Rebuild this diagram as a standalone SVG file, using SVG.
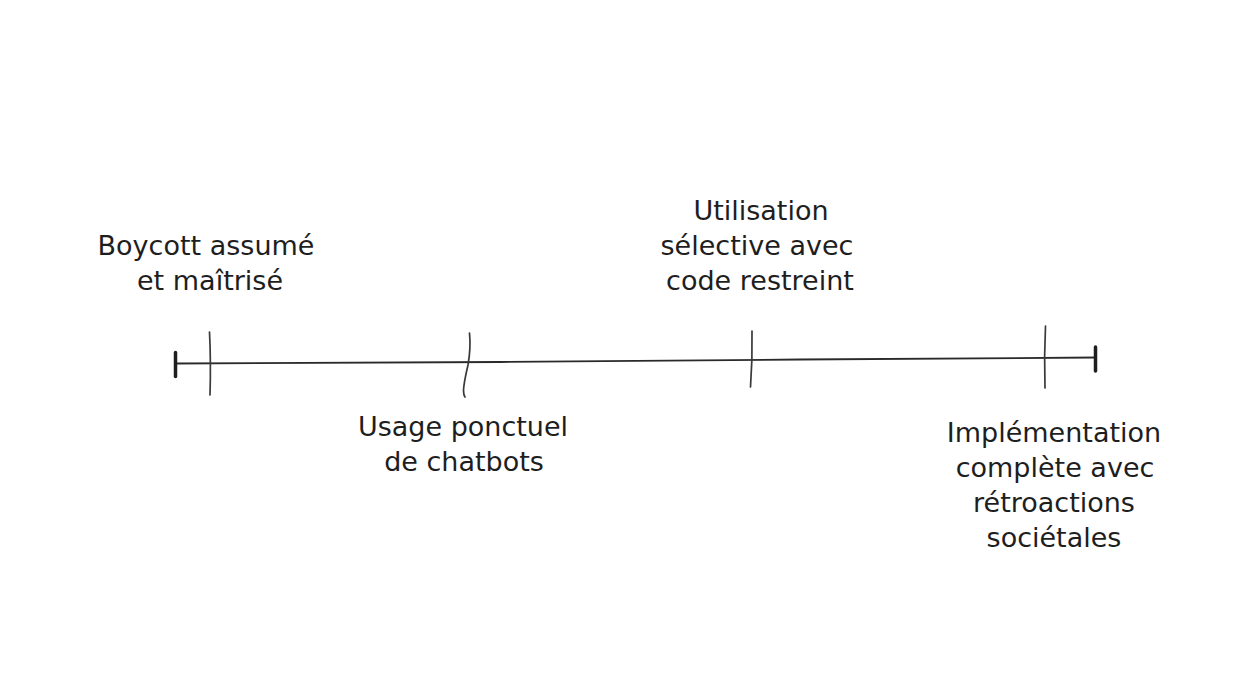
<svg xmlns="http://www.w3.org/2000/svg" width="1254" height="682" viewBox="0 0 1254 682">
<style>
.lbl{font-family:"DejaVu Sans","Liberation Sans",sans-serif;font-size:27px;fill:#1e1e1e;text-anchor:middle}
.tick{fill:none;stroke:#3a3a3a;stroke-width:1.7;stroke-linecap:round}
.axis{fill:none;stroke:#2a2a2a;stroke-width:1.8;stroke-linecap:round}
.end{fill:none;stroke:#1e1e1e;stroke-width:3.5;stroke-linecap:round}
</style>
<rect width="1254" height="682" fill="#ffffff"/>
<g id="connectors">
<path class="axis" d="M176 363.5 L500 362 L800 359.5 L1096 357.5"/>
<path class="end" d="M175.5 352.5 L175.5 376.5"/>
<path class="end" d="M1095.5 347 L1095.5 371"/>
</g>
<g id="node-boycott">
<path class="tick" d="M209.5 332 Q211 362 210 395"/>
<text class="lbl" x="206" y="255">Boycott assumé</text>
<text class="lbl" x="210" y="290">et maîtrisé</text>
</g>
<g id="node-usage">
<path class="tick" d="M469.5 333 Q471 348 468 365 Q464 382 463.5 390 Q463.5 395 465 397"/>
<text class="lbl" x="463" y="436">Usage ponctuel</text>
<text class="lbl" x="464" y="471">de chatbots</text>
</g>
<g id="node-utilisation">
<path class="tick" d="M752 331 Q752.5 360 750.5 387"/>
<text class="lbl" x="761" y="220">Utilisation</text>
<text class="lbl" x="757" y="255">sélective avec</text>
<text class="lbl" x="760" y="290">code restreint</text>
</g>
<g id="node-implementation">
<path class="tick" d="M1045.5 326 Q1044 356 1045 388"/>
<text class="lbl" x="1054" y="442">Implémentation</text>
<text class="lbl" x="1055" y="477">complète avec</text>
<text class="lbl" x="1054" y="512">rétroactions</text>
<text class="lbl" x="1054" y="547">sociétales</text>
</g>
</svg>
